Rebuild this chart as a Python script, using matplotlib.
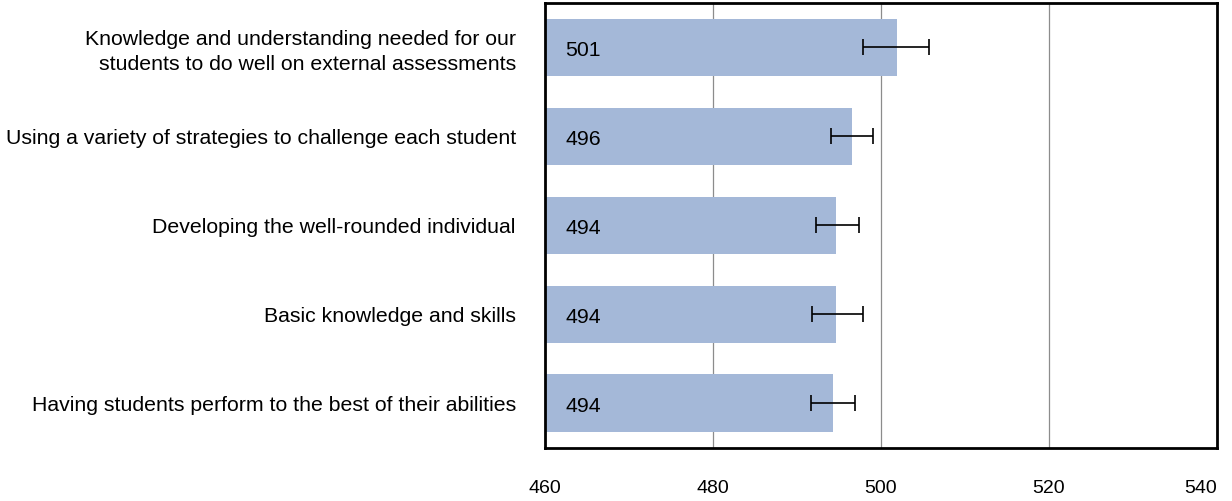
import matplotlib.pyplot as plt

plt.rcParams["font.family"] = ["Liberation Sans", "DejaVu Sans"]

categories = [
    "Knowledge and understanding needed for our\nstudents to do well on external assessments",
    "Using a variety of strategies to challenge each student",
    "Developing the well-rounded individual",
    "Basic knowledge and skills",
    "Having students perform to the best of their abilities",
]
scores = [501.9, 496.6, 494.7, 494.7, 494.3]
score_labels = ["501", "496", "494", "494", "494"]
err_centers = [501.75, 496.55, 494.85, 494.8, 494.3]
err_half = [3.95, 2.55, 2.55, 3.05, 2.6]
xticks = [460, 480, 500, 520, 540]

fig = plt.figure(figsize=(12.32, 5.01), dpi=100)
ax = fig.add_axes([0.4424, 0.106, 0.5454, 0.888])

y = list(range(len(categories)))
ax.barh(y, [s - 460 for s in scores], left=460, height=0.65,
        color="#a4b8d8", zorder=2)
ax.errorbar(err_centers, y, xerr=err_half, fmt="none", ecolor="black",
            elinewidth=1.2, capsize=6, capthick=1.2, zorder=3)
for yi, lab in zip(y, score_labels):
    ax.text(462.4, yi + 0.03, lab, va="center", ha="left", fontsize=15.3,
            zorder=4)

ax.set_xlim(460, 540)
ax.set_ylim(len(categories) - 0.5, -0.5)
ax.set_xticks(xticks)
ax.set_yticks(y)
ax.set_yticklabels(categories, fontsize=15.3, linespacing=1.4)
ax.tick_params(axis="x", length=0, pad=23, labelsize=14)
ax.tick_params(axis="y", length=0, pad=21)
ax.get_xticklabels()[-1].set_horizontalalignment("right")
ax.grid(axis="x", color="#8c8c8c", linewidth=0.9, zorder=1)
ax.set_axisbelow(True)
for sp in ax.spines.values():
    sp.set_linewidth(2)
    sp.set_color("black")

fig.savefig("out.png", dpi=100)
